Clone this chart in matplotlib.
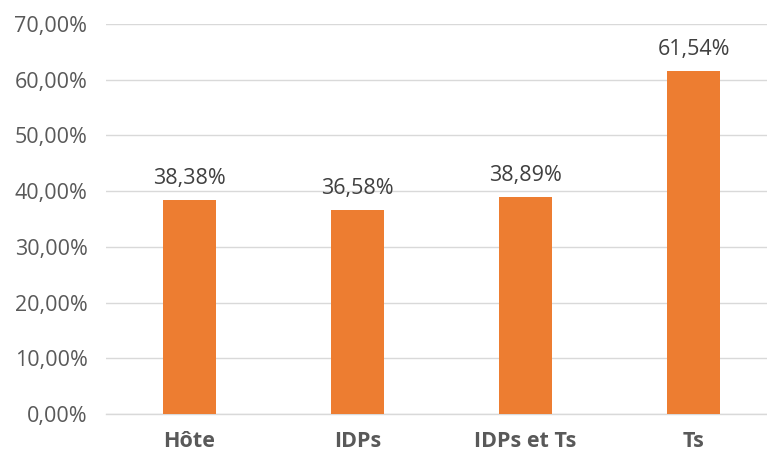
import matplotlib.pyplot as plt
from matplotlib.ticker import FuncFormatter

categories = ["Hôte", "IDPs", "IDPs et Ts", "Ts"]
values = [38.38, 36.58, 38.89, 61.54]
yticks = [0, 10, 20, 30, 40, 50, 60, 70]


def pct(v, _=None):
    return f"{v:.2f}%".replace(".", ",")


plt.rcParams["font.family"] = ["Open Sans", "DejaVu Sans"]

fig = plt.figure(figsize=(7.67, 4.53), dpi=100)
# axes run a little past the right edge, like the cropped original
ax = fig.add_axes([105.5 / 767, 39 / 453, 672 / 767, 390 / 453])

x = range(len(categories))
bars = ax.bar(x, values, width=0.315, color="#ED7D31", zorder=3)

for b, v in zip(bars, values):
    ax.annotate(pct(v), (b.get_x() + b.get_width() / 2, v),
                xytext=(0, 8), textcoords="offset points",
                ha="center", va="bottom", fontsize=15.5, color="#404040")

ax.set_xlim(-0.5, len(categories) - 0.5)
ax.set_ylim(0, 70)
ax.set_yticks(yticks)
ax.yaxis.set_major_formatter(FuncFormatter(pct))
ax.set_xticks(list(x))
ax.set_xticklabels(categories, fontweight="bold")

ax.grid(axis="y", color="#d9d9d9", linewidth=1.0, zorder=0)
for s in ("top", "right", "left"):
    ax.spines[s].set_visible(False)
ax.spines["bottom"].set_color("#d9d9d9")
ax.spines["bottom"].set_linewidth(1.0)
ax.tick_params(axis="both", length=0, labelsize=15.5, colors="#595959")
ax.tick_params(axis="y", pad=13)
ax.tick_params(axis="x", pad=12)

fig.savefig("out.png", dpi=100)
